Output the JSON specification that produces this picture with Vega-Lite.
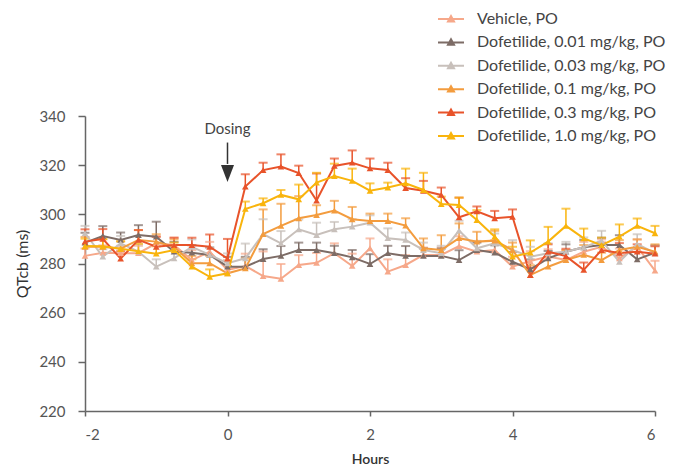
{
  "$schema": "https://vega.github.io/schema/vega-lite/v6.json",
  "width": 570,
  "height": 295,
  "autosize": {"type": "none"},
  "padding": {"left": 85, "top": 116, "right": 19, "bottom": 56},
  "config": {
    "font": "Lato",
    "view": {"stroke": null},
    "axis": {"grid": false, "domainColor": "#666666", "tickColor": "#666666", "domainWidth": 1.5, "tickWidth": 1.5, "labelColor": "#555555", "labelFontSize": 15, "titleColor": "#333333", "titleFontSize": 16, "labelFont": "Lato", "titleFont": "Lato"}
  },
  "datasets": {
    "d": [
      {"s":"Vehicle, PO","t":-2,"v":283.1,"hi":286.1},{"s":"Vehicle, PO","t":-1.75,"v":284.4,"hi":287.4},{"s":"Vehicle, PO","t":-1.5,"v":284.2,"hi":287.2},{"s":"Vehicle, PO","t":-1.25,"v":284.2,"hi":287.2},{"s":"Vehicle, PO","t":-1,"v":288.2,"hi":291.2},{"s":"Vehicle, PO","t":-0.75,"v":287.5,"hi":290.5},{"s":"Vehicle, PO","t":-0.5,"v":281.4,"hi":285.4},{"s":"Vehicle, PO","t":-0.25,"v":284.8,"hi":288.8},{"s":"Vehicle, PO","t":0,"v":277.4,"hi":281.4},{"s":"Vehicle, PO","t":0.25,"v":279,"hi":284},{"s":"Vehicle, PO","t":0.5,"v":274.9,"hi":284.9},{"s":"Vehicle, PO","t":0.75,"v":273.8,"hi":279.8},{"s":"Vehicle, PO","t":1,"v":279.4,"hi":283.4},{"s":"Vehicle, PO","t":1.25,"v":280.3,"hi":284.3},{"s":"Vehicle, PO","t":1.5,"v":284.2,"hi":288.2},{"s":"Vehicle, PO","t":1.75,"v":279,"hi":284},{"s":"Vehicle, PO","t":2,"v":286.2,"hi":290.2},{"s":"Vehicle, PO","t":2.25,"v":276.7,"hi":281.7},{"s":"Vehicle, PO","t":2.5,"v":279.4,"hi":283.4},{"s":"Vehicle, PO","t":2.75,"v":283.5,"hi":286.5},{"s":"Vehicle, PO","t":3,"v":283.5,"hi":286.5},{"s":"Vehicle, PO","t":3.25,"v":287.1,"hi":291.1},{"s":"Vehicle, PO","t":3.5,"v":284.8,"hi":288.8},{"s":"Vehicle, PO","t":3.75,"v":285.5,"hi":289.5},{"s":"Vehicle, PO","t":4,"v":278.7,"hi":282.7},{"s":"Vehicle, PO","t":4.25,"v":281,"hi":285},{"s":"Vehicle, PO","t":4.5,"v":282.8,"hi":285.8},{"s":"Vehicle, PO","t":4.75,"v":281.4,"hi":285.4},{"s":"Vehicle, PO","t":5,"v":284.8,"hi":288.8},{"s":"Vehicle, PO","t":5.25,"v":286.8,"hi":289.8},{"s":"Vehicle, PO","t":5.5,"v":282.1,"hi":286.1},{"s":"Vehicle, PO","t":5.75,"v":286.8,"hi":289.8},{"s":"Vehicle, PO","t":6,"v":277.1,"hi":281.1},

      {"s":"Dofetilide, 0.01 mg/kg, PO","t":-2,"v":288.5,"hi":292.5},{"s":"Dofetilide, 0.01 mg/kg, PO","t":-1.75,"v":291.2,"hi":295.2},{"s":"Dofetilide, 0.01 mg/kg, PO","t":-1.5,"v":289.6,"hi":292.6},{"s":"Dofetilide, 0.01 mg/kg, PO","t":-1.25,"v":291.6,"hi":295.6},{"s":"Dofetilide, 0.01 mg/kg, PO","t":-1,"v":290.9,"hi":297},{"s":"Dofetilide, 0.01 mg/kg, PO","t":-0.75,"v":284.8,"hi":288.8},{"s":"Dofetilide, 0.01 mg/kg, PO","t":-0.5,"v":284.4,"hi":287.4},{"s":"Dofetilide, 0.01 mg/kg, PO","t":-0.25,"v":283.5,"hi":286.5},{"s":"Dofetilide, 0.01 mg/kg, PO","t":0,"v":278.7,"hi":282.7},{"s":"Dofetilide, 0.01 mg/kg, PO","t":0.25,"v":278.7,"hi":282.7},{"s":"Dofetilide, 0.01 mg/kg, PO","t":0.5,"v":281.8,"hi":285.8},{"s":"Dofetilide, 0.01 mg/kg, PO","t":0.75,"v":283.1,"hi":287.1},{"s":"Dofetilide, 0.01 mg/kg, PO","t":1,"v":285.5,"hi":288.5},{"s":"Dofetilide, 0.01 mg/kg, PO","t":1.25,"v":285.5,"hi":288.5},{"s":"Dofetilide, 0.01 mg/kg, PO","t":1.5,"v":284.2,"hi":287.2},{"s":"Dofetilide, 0.01 mg/kg, PO","t":1.75,"v":282.5,"hi":285.5},{"s":"Dofetilide, 0.01 mg/kg, PO","t":2,"v":279.8,"hi":283.8},{"s":"Dofetilide, 0.01 mg/kg, PO","t":2.25,"v":284.2,"hi":287.2},{"s":"Dofetilide, 0.01 mg/kg, PO","t":2.5,"v":283.1,"hi":287.1},{"s":"Dofetilide, 0.01 mg/kg, PO","t":2.75,"v":283.1,"hi":286.1},{"s":"Dofetilide, 0.01 mg/kg, PO","t":3,"v":283.1,"hi":286.1},{"s":"Dofetilide, 0.01 mg/kg, PO","t":3.25,"v":281.4,"hi":285.4},{"s":"Dofetilide, 0.01 mg/kg, PO","t":3.5,"v":285.5,"hi":288.5},{"s":"Dofetilide, 0.01 mg/kg, PO","t":3.75,"v":284.4,"hi":287.4},{"s":"Dofetilide, 0.01 mg/kg, PO","t":4,"v":280.7,"hi":284.7},{"s":"Dofetilide, 0.01 mg/kg, PO","t":4.25,"v":277.6,"hi":281.6},{"s":"Dofetilide, 0.01 mg/kg, PO","t":4.5,"v":282.1,"hi":285.1},{"s":"Dofetilide, 0.01 mg/kg, PO","t":4.75,"v":284.8,"hi":287.8},{"s":"Dofetilide, 0.01 mg/kg, PO","t":5,"v":286.6,"hi":289.6},{"s":"Dofetilide, 0.01 mg/kg, PO","t":5.25,"v":287.5,"hi":290.5},{"s":"Dofetilide, 0.01 mg/kg, PO","t":5.5,"v":287.5,"hi":291.5},{"s":"Dofetilide, 0.01 mg/kg, PO","t":5.75,"v":281.7,"hi":284.7},{"s":"Dofetilide, 0.01 mg/kg, PO","t":6,"v":284.4,"hi":287.4},

      {"s":"Dofetilide, 0.03 mg/kg, PO","t":-2,"v":292.3,"hi":295.3},{"s":"Dofetilide, 0.03 mg/kg, PO","t":-1.75,"v":282.8,"hi":285.8},{"s":"Dofetilide, 0.03 mg/kg, PO","t":-1.5,"v":288.2,"hi":291.2},{"s":"Dofetilide, 0.03 mg/kg, PO","t":-1.25,"v":284.8,"hi":287.8},{"s":"Dofetilide, 0.03 mg/kg, PO","t":-1,"v":278.7,"hi":281.7},{"s":"Dofetilide, 0.03 mg/kg, PO","t":-0.75,"v":282.1,"hi":285.1},{"s":"Dofetilide, 0.03 mg/kg, PO","t":-0.5,"v":286.8,"hi":289.8},{"s":"Dofetilide, 0.03 mg/kg, PO","t":-0.25,"v":283.5,"hi":286.5},{"s":"Dofetilide, 0.03 mg/kg, PO","t":0,"v":280.1,"hi":284.1},{"s":"Dofetilide, 0.03 mg/kg, PO","t":0.25,"v":282.1,"hi":288.1},{"s":"Dofetilide, 0.03 mg/kg, PO","t":0.5,"v":292,"hi":298},{"s":"Dofetilide, 0.03 mg/kg, PO","t":0.75,"v":288.2,"hi":293.2},{"s":"Dofetilide, 0.03 mg/kg, PO","t":1,"v":293.9,"hi":297.9},{"s":"Dofetilide, 0.03 mg/kg, PO","t":1.25,"v":291.6,"hi":296.6},{"s":"Dofetilide, 0.03 mg/kg, PO","t":1.5,"v":293.9,"hi":296.9},{"s":"Dofetilide, 0.03 mg/kg, PO","t":1.75,"v":295,"hi":298},{"s":"Dofetilide, 0.03 mg/kg, PO","t":2,"v":296.6,"hi":299.6},{"s":"Dofetilide, 0.03 mg/kg, PO","t":2.25,"v":290.3,"hi":294.3},{"s":"Dofetilide, 0.03 mg/kg, PO","t":2.5,"v":289.6,"hi":292.6},{"s":"Dofetilide, 0.03 mg/kg, PO","t":2.75,"v":285.5,"hi":288.5},{"s":"Dofetilide, 0.03 mg/kg, PO","t":3,"v":284.2,"hi":287.2},{"s":"Dofetilide, 0.03 mg/kg, PO","t":3.25,"v":293.4,"hi":297.4},{"s":"Dofetilide, 0.03 mg/kg, PO","t":3.5,"v":286.2,"hi":289.2},{"s":"Dofetilide, 0.03 mg/kg, PO","t":3.75,"v":288.2,"hi":292.2},{"s":"Dofetilide, 0.03 mg/kg, PO","t":4,"v":285.5,"hi":289.5},{"s":"Dofetilide, 0.03 mg/kg, PO","t":4.25,"v":282.8,"hi":286.8},{"s":"Dofetilide, 0.03 mg/kg, PO","t":4.5,"v":284.2,"hi":288.2},{"s":"Dofetilide, 0.03 mg/kg, PO","t":4.75,"v":284.8,"hi":288.8},{"s":"Dofetilide, 0.03 mg/kg, PO","t":5,"v":286.6,"hi":290.6},{"s":"Dofetilide, 0.03 mg/kg, PO","t":5.25,"v":289.3,"hi":293.3},{"s":"Dofetilide, 0.03 mg/kg, PO","t":5.5,"v":280.7,"hi":283.7},{"s":"Dofetilide, 0.03 mg/kg, PO","t":5.75,"v":287.9,"hi":291.9},{"s":"Dofetilide, 0.03 mg/kg, PO","t":6,"v":284.2,"hi":287.2},

      {"s":"Dofetilide, 0.1 mg/kg, PO","t":-2,"v":286.8,"hi":290.8},{"s":"Dofetilide, 0.1 mg/kg, PO","t":-1.75,"v":286.8,"hi":289.8},{"s":"Dofetilide, 0.1 mg/kg, PO","t":-1.5,"v":286,"hi":289},{"s":"Dofetilide, 0.1 mg/kg, PO","t":-1.25,"v":289.6,"hi":293.6},{"s":"Dofetilide, 0.1 mg/kg, PO","t":-1,"v":288.9,"hi":291.9},{"s":"Dofetilide, 0.1 mg/kg, PO","t":-0.75,"v":286.8,"hi":289.8},{"s":"Dofetilide, 0.1 mg/kg, PO","t":-0.5,"v":280.1,"hi":283.1},{"s":"Dofetilide, 0.1 mg/kg, PO","t":-0.25,"v":280.1,"hi":283.1},{"s":"Dofetilide, 0.1 mg/kg, PO","t":0,"v":276,"hi":279},{"s":"Dofetilide, 0.1 mg/kg, PO","t":0.25,"v":278,"hi":282},{"s":"Dofetilide, 0.1 mg/kg, PO","t":0.5,"v":292,"hi":302},{"s":"Dofetilide, 0.1 mg/kg, PO","t":0.75,"v":295.3,"hi":304.3},{"s":"Dofetilide, 0.1 mg/kg, PO","t":1,"v":298.4,"hi":307.4},{"s":"Dofetilide, 0.1 mg/kg, PO","t":1.25,"v":299.7,"hi":303.7},{"s":"Dofetilide, 0.1 mg/kg, PO","t":1.5,"v":301.5,"hi":305.5},{"s":"Dofetilide, 0.1 mg/kg, PO","t":1.75,"v":298,"hi":303},{"s":"Dofetilide, 0.1 mg/kg, PO","t":2,"v":297.3,"hi":300.3},{"s":"Dofetilide, 0.1 mg/kg, PO","t":2.25,"v":297.3,"hi":300.3},{"s":"Dofetilide, 0.1 mg/kg, PO","t":2.5,"v":295.4,"hi":298.4},{"s":"Dofetilide, 0.1 mg/kg, PO","t":2.75,"v":286.2,"hi":290.2},{"s":"Dofetilide, 0.1 mg/kg, PO","t":3,"v":285.5,"hi":291.5},{"s":"Dofetilide, 0.1 mg/kg, PO","t":3.25,"v":290.3,"hi":296.3},{"s":"Dofetilide, 0.1 mg/kg, PO","t":3.5,"v":288.9,"hi":292.9},{"s":"Dofetilide, 0.1 mg/kg, PO","t":3.75,"v":289.3,"hi":293.3},{"s":"Dofetilide, 0.1 mg/kg, PO","t":4,"v":285.5,"hi":288.5},{"s":"Dofetilide, 0.1 mg/kg, PO","t":4.25,"v":275.3,"hi":279.3},{"s":"Dofetilide, 0.1 mg/kg, PO","t":4.5,"v":278.7,"hi":282.7},{"s":"Dofetilide, 0.1 mg/kg, PO","t":4.75,"v":281.4,"hi":285.4},{"s":"Dofetilide, 0.1 mg/kg, PO","t":5,"v":283.5,"hi":287.5},{"s":"Dofetilide, 0.1 mg/kg, PO","t":5.25,"v":281.4,"hi":284.4},{"s":"Dofetilide, 0.1 mg/kg, PO","t":5.5,"v":285.5,"hi":289.5},{"s":"Dofetilide, 0.1 mg/kg, PO","t":5.75,"v":286.8,"hi":289.8},{"s":"Dofetilide, 0.1 mg/kg, PO","t":6,"v":284.8,"hi":287.8},

      {"s":"Dofetilide, 0.3 mg/kg, PO","t":-2,"v":288.9,"hi":293.9},{"s":"Dofetilide, 0.3 mg/kg, PO","t":-1.75,"v":290,"hi":294},{"s":"Dofetilide, 0.3 mg/kg, PO","t":-1.5,"v":282,"hi":285},{"s":"Dofetilide, 0.3 mg/kg, PO","t":-1.25,"v":289.6,"hi":293.6},{"s":"Dofetilide, 0.3 mg/kg, PO","t":-1,"v":286.8,"hi":290.8},{"s":"Dofetilide, 0.3 mg/kg, PO","t":-0.75,"v":287.5,"hi":290.5},{"s":"Dofetilide, 0.3 mg/kg, PO","t":-0.5,"v":287.5,"hi":290.5},{"s":"Dofetilide, 0.3 mg/kg, PO","t":-0.25,"v":286.8,"hi":291.8},{"s":"Dofetilide, 0.3 mg/kg, PO","t":0,"v":282,"hi":290},{"s":"Dofetilide, 0.3 mg/kg, PO","t":0.25,"v":311.3,"hi":316.3},{"s":"Dofetilide, 0.3 mg/kg, PO","t":0.5,"v":318,"hi":321},{"s":"Dofetilide, 0.3 mg/kg, PO","t":0.75,"v":319.4,"hi":324.4},{"s":"Dofetilide, 0.3 mg/kg, PO","t":1,"v":316.8,"hi":319.8},{"s":"Dofetilide, 0.3 mg/kg, PO","t":1.25,"v":305.6,"hi":316.6},{"s":"Dofetilide, 0.3 mg/kg, PO","t":1.5,"v":319.7,"hi":322.7},{"s":"Dofetilide, 0.3 mg/kg, PO","t":1.75,"v":321,"hi":326},{"s":"Dofetilide, 0.3 mg/kg, PO","t":2,"v":318.7,"hi":322.7},{"s":"Dofetilide, 0.3 mg/kg, PO","t":2.25,"v":318,"hi":321},{"s":"Dofetilide, 0.3 mg/kg, PO","t":2.5,"v":310.7,"hi":314.7},{"s":"Dofetilide, 0.3 mg/kg, PO","t":2.75,"v":309.6,"hi":313.6},{"s":"Dofetilide, 0.3 mg/kg, PO","t":3,"v":307.9,"hi":310.9},{"s":"Dofetilide, 0.3 mg/kg, PO","t":3.25,"v":298.8,"hi":306.8},{"s":"Dofetilide, 0.3 mg/kg, PO","t":3.5,"v":301.2,"hi":303.2},{"s":"Dofetilide, 0.3 mg/kg, PO","t":3.75,"v":298.4,"hi":301.4},{"s":"Dofetilide, 0.3 mg/kg, PO","t":4,"v":299,"hi":302},{"s":"Dofetilide, 0.3 mg/kg, PO","t":4.25,"v":275.3,"hi":278.3},{"s":"Dofetilide, 0.3 mg/kg, PO","t":4.5,"v":284.8,"hi":287.8},{"s":"Dofetilide, 0.3 mg/kg, PO","t":4.75,"v":283,"hi":286},{"s":"Dofetilide, 0.3 mg/kg, PO","t":5,"v":277.4,"hi":280.4},{"s":"Dofetilide, 0.3 mg/kg, PO","t":5.25,"v":285.5,"hi":288.5},{"s":"Dofetilide, 0.3 mg/kg, PO","t":5.5,"v":284.3,"hi":288.3},{"s":"Dofetilide, 0.3 mg/kg, PO","t":5.75,"v":284.8,"hi":287.8},{"s":"Dofetilide, 0.3 mg/kg, PO","t":6,"v":284,"hi":287},

      {"s":"Dofetilide, 1.0 mg/kg, PO","t":-2,"v":287.1,"hi":290.1},{"s":"Dofetilide, 1.0 mg/kg, PO","t":-1.75,"v":287,"hi":290},{"s":"Dofetilide, 1.0 mg/kg, PO","t":-1.5,"v":286,"hi":289},{"s":"Dofetilide, 1.0 mg/kg, PO","t":-1.25,"v":285,"hi":288},{"s":"Dofetilide, 1.0 mg/kg, PO","t":-1,"v":284,"hi":287},{"s":"Dofetilide, 1.0 mg/kg, PO","t":-0.75,"v":285.5,"hi":288.5},{"s":"Dofetilide, 1.0 mg/kg, PO","t":-0.5,"v":278.7,"hi":281.7},{"s":"Dofetilide, 1.0 mg/kg, PO","t":-0.25,"v":274.6,"hi":277.6},{"s":"Dofetilide, 1.0 mg/kg, PO","t":0,"v":276,"hi":279},{"s":"Dofetilide, 1.0 mg/kg, PO","t":0.25,"v":302.2,"hi":305.2},{"s":"Dofetilide, 1.0 mg/kg, PO","t":0.5,"v":304.5,"hi":306.5},{"s":"Dofetilide, 1.0 mg/kg, PO","t":0.75,"v":307.9,"hi":309.9},{"s":"Dofetilide, 1.0 mg/kg, PO","t":1,"v":306.1,"hi":312.1},{"s":"Dofetilide, 1.0 mg/kg, PO","t":1.25,"v":312.9,"hi":316.9},{"s":"Dofetilide, 1.0 mg/kg, PO","t":1.5,"v":315.6,"hi":320.6},{"s":"Dofetilide, 1.0 mg/kg, PO","t":1.75,"v":313.6,"hi":318.6},{"s":"Dofetilide, 1.0 mg/kg, PO","t":2,"v":309.6,"hi":312.6},{"s":"Dofetilide, 1.0 mg/kg, PO","t":2.25,"v":310.9,"hi":312.9},{"s":"Dofetilide, 1.0 mg/kg, PO","t":2.5,"v":312.6,"hi":318.6},{"s":"Dofetilide, 1.0 mg/kg, PO","t":2.75,"v":309.9,"hi":316.9},{"s":"Dofetilide, 1.0 mg/kg, PO","t":3,"v":304.2,"hi":307.2},{"s":"Dofetilide, 1.0 mg/kg, PO","t":3.25,"v":303.8,"hi":306.8},{"s":"Dofetilide, 1.0 mg/kg, PO","t":3.5,"v":297.7,"hi":301.7},{"s":"Dofetilide, 1.0 mg/kg, PO","t":3.75,"v":290.9,"hi":293.9},{"s":"Dofetilide, 1.0 mg/kg, PO","t":4,"v":282.8,"hi":286.8},{"s":"Dofetilide, 1.0 mg/kg, PO","t":4.25,"v":284.4,"hi":289.4},{"s":"Dofetilide, 1.0 mg/kg, PO","t":4.5,"v":288.9,"hi":294.9},{"s":"Dofetilide, 1.0 mg/kg, PO","t":4.75,"v":295.3,"hi":302.3},{"s":"Dofetilide, 1.0 mg/kg, PO","t":5,"v":290.2,"hi":294.2},{"s":"Dofetilide, 1.0 mg/kg, PO","t":5.25,"v":287.5,"hi":290.5},{"s":"Dofetilide, 1.0 mg/kg, PO","t":5.5,"v":290.9,"hi":295.9},{"s":"Dofetilide, 1.0 mg/kg, PO","t":5.75,"v":295.3,"hi":298.3},{"s":"Dofetilide, 1.0 mg/kg, PO","t":6,"v":292.3,"hi":295.3}
    ],
    "ann": [{"t": 0, "label": "Dosing", "ty": 334.7, "a1": 329.2, "a2": 320.5, "tip": 316.6}]
  },
  "encoding": {
    "x": {"field": "t", "type": "quantitative", "title": "Hours",
      "scale": {"domain": [-2, 6], "nice": false},
      "axis": {"values": [-2, 0, 2, 4, 6], "labelExpr": "datum.value", "tickSize": 5, "labelPadding": 11, "titleFontWeight": 600, "titlePadding": 10, "titleFontSize": 14}},
    "y": {"field": "v", "type": "quantitative", "title": "QTcb (ms)",
      "scale": {"domain": [220, 340], "nice": false, "zero": false},
      "axis": {"values": [220, 240, 260, 280, 300, 320, 340], "tickSize": 7, "labelPadding": 13, "titleFontWeight": "normal", "titlePadding": 8}}
  },
  "layer": [
    {
      "data": {"name": "d"},
      "mark": {"type": "rule", "strokeWidth": 1.5},
      "encoding": {
        "y2": {"field": "hi"},
        "color": {"field": "s", "type": "nominal",
          "scale": {
            "domain": ["Vehicle, PO", "Dofetilide, 0.01 mg/kg, PO", "Dofetilide, 0.03 mg/kg, PO", "Dofetilide, 0.1 mg/kg, PO", "Dofetilide, 0.3 mg/kg, PO", "Dofetilide, 1.0 mg/kg, PO"],
            "range": ["#F6A88A", "#7D6C66", "#C8C0BB", "#F39C3E", "#E8532A", "#F9B40C"]
          },
          "legend": {
            "title": null, "orient": "none", "legendX": 355, "legendY": -108, "padding": 0,
            "symbolType": "M-1.3,0L1.3,0M-0.3,0.24L0,-0.3L0.3,0.24Z",
            "symbolSize": 400, "symbolStrokeWidth": 2, "rowPadding": 4.4,
            "labelFontSize": 16, "labelColor": "#444444", "labelFont": "Lato", "labelOffset": 15, "labelLimit": 300,
            "encode": {"symbols": {"update": {"fill": {"scale": "color", "field": "value"}, "stroke": {"scale": "color", "field": "value"}, "opacity": {"value": 1}}}}
          }
        }
      }
    },
    {
      "data": {"name": "d"},
      "mark": {"type": "tick", "orient": "horizontal", "size": 9, "thickness": 2},
      "encoding": {
        "y": {"field": "hi", "type": "quantitative"},
        "color": {"field": "s", "type": "nominal"}
      }
    },
    {
      "data": {"name": "d"},
      "mark": {"type": "line", "strokeWidth": 2},
      "encoding": {
        "color": {"field": "s", "type": "nominal"}
      }
    },
    {
      "data": {"name": "d"},
      "mark": {"type": "point", "shape": "triangle-up", "filled": true, "size": 45, "opacity": 1},
      "encoding": {
        "color": {"field": "s", "type": "nominal"}
      }
    },
    {
      "data": {"name": "ann"},
      "mark": {"type": "rule", "strokeWidth": 1.5, "color": "#333333"},
      "encoding": {"y": {"field": "a1", "type": "quantitative"}, "y2": {"field": "a2"}}
    },
    {
      "data": {"name": "ann"},
      "mark": {"type": "point", "shape": "M-1,-1.3L1,-1.3L0,1.3Z", "filled": true, "size": 169, "color": "#333333", "opacity": 1},
      "encoding": {"y": {"field": "tip", "type": "quantitative"}}
    },
    {
      "data": {"name": "ann"},
      "mark": {"type": "text", "fontSize": 15, "color": "#444444", "baseline": "middle", "align": "center", "font": "Lato"},
      "encoding": {"y": {"field": "ty", "type": "quantitative"}, "text": {"field": "label"}}
    }
  ]
}
